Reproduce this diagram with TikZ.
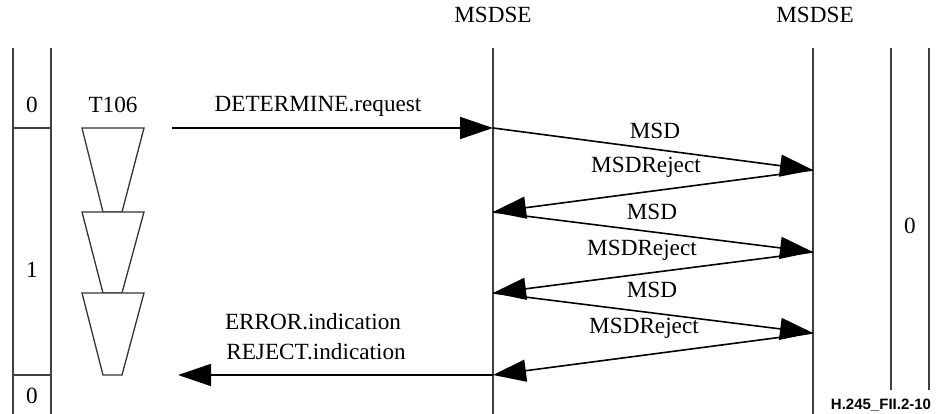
\documentclass[tikz,border=0pt]{standalone}
\usepackage{fontspec}
\setmainfont{Liberation Serif}
\newfontfamily\labelsans{Liberation Sans}
\usetikzlibrary{arrows.meta}
\begin{document}
\begin{tikzpicture}[x=1pt,y=-1pt,
  lane/.style={draw=black!75, line width=1.3pt},
  msg/.style={draw=black, line width=1.6pt, -{Triangle[length=33pt,width=22pt]}},
  txt/.style={font=\fontsize{23.2}{27}\selectfont, inner sep=0pt},
  timer/.style={draw=black!80, line width=1.3pt, fill=white}]
\useasboundingbox (0,0) rectangle (943,414);
% lifeline headers
\node[txt] (hA) at (493,15) {MSDSE};
\node[txt] (hB) at (815,15) {MSDSE};
% lifeline coordinates
\coordinate (aTop) at (493,48);
\coordinate (aBot) at (493,414);
\coordinate (bTop) at (813,48);
\coordinate (bBot) at (813,414);
\draw[lane] (aTop) -- (aBot);
\draw[lane] (bTop) -- (bBot);
% left state column
\coordinate (l1t) at (13,48);  \coordinate (l1b) at (13,414);
\coordinate (l2t) at (51,48);  \coordinate (l2b) at (51,414);
\draw[lane] (l1t) -- (l1b);
\draw[lane] (l2t) -- (l2b);
\draw[lane] (13,128) -- (51,128);
\draw[lane] (13,375) -- (51,375);
\node[txt] (s0a) at (32,105) {0};
\node[txt] (s1) at (32,270) {1};
\node[txt] (s0b) at (32,396) {0};
% right state column
\coordinate (r1t) at (891,48); \coordinate (r1b) at (891,390);
\coordinate (r2t) at (929,48); \coordinate (r2b) at (929,390);
\draw[lane] (r1t) -- (r1b);
\draw[lane] (r2t) -- (r2b);
\node[txt] (s0r) at (910,226) {0};
% timer
\node[txt] (t106) at (113,105) {T106};
\draw[timer] (82,128) -- (144,128) -- (122,212) -- (103,212) -- cycle;
\draw[timer] (82,212) -- (144,212) -- (122,293) -- (103,293) -- cycle;
\draw[timer] (82,293) -- (144,293) -- (122,375) -- (103,375) -- cycle;
% message points
\coordinate (src) at (172,128);
\coordinate (a0) at (493,128);
\coordinate (b1) at (813,170);
\coordinate (a1) at (493,212);
\coordinate (b2) at (813,252);
\coordinate (a2) at (493,293);
\coordinate (b3) at (813,333);
\coordinate (a3) at (493,375);
\coordinate (dst) at (178,375);
\draw[msg] (src) -- (a0);
\draw[msg] (a0) -- (b1);
\draw[msg] (b1) -- (a1);
\draw[msg] (a1) -- (b2);
\draw[msg] (b2) -- (a2);
\draw[msg] (a2) -- (b3);
\draw[msg] (b3) -- (a3);
\draw[msg] (a3) -- (dst);
% message labels
\node[txt] (m0) at (318,106) {DETERMINE.request};
\node[txt] (m1) at (655,131) {MSD};
\node[txt] (m2) at (646,167) {MSDReject};
\node[txt] (m3) at (652,212) {MSD};
\node[txt] (m4) at (642,250) {MSDReject};
\node[txt] (m5) at (652,290) {MSD};
\node[txt] (m6) at (644,328) {MSDReject};
\node[txt] (m7) at (313,322) {ERROR.indication};
\node[txt] (m8) at (316,352) {REJECT.indication};
% figure id
\node[font=\labelsans\bfseries\fontsize{15}{18}\selectfont, inner sep=0pt] (fid) at (881,405) {H.245\_FII.2-10};
\end{tikzpicture}
\end{document}
